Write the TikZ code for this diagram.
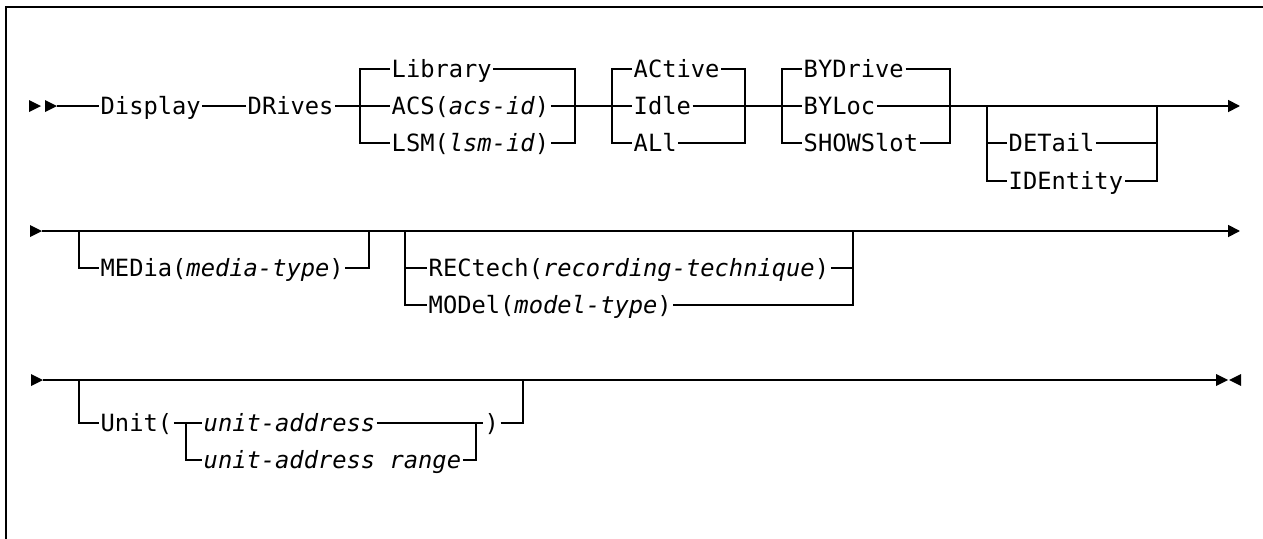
\documentclass[tikz,border=0pt]{standalone}
\usepackage{fontspec}
\setmonofont{DejaVu Sans Mono}[ItalicFont={DejaVu Sans Mono Oblique}]
\usetikzlibrary{arrows.meta}
\newcommand\rtri[1]{\fill ([yshift=6pt]#1) -- ([xshift=12pt]#1) -- ([yshift=-6pt]#1) -- cycle;}
\newcommand\ltri[1]{\fill ([yshift=6pt]#1) -- ([xshift=-12pt]#1) -- ([yshift=-6pt]#1) -- cycle;}
\begin{document}
\begin{tikzpicture}[x=1pt,y=-1pt,
  lbl/.style={inner xsep=1.5pt, inner ysep=0pt, text height=17.3pt, text depth=0pt, anchor=west,
              font=\ttfamily\fontsize{23.75}{28}\selectfont},
  rail/.style={line width=1.8pt, line cap=butt, line join=miter},
  endarrow/.style={-{Triangle[length=12pt,width=12pt]}},
  frame/.style={line width=2.5pt}]
\useasboundingbox (0,0) rectangle (1263,538);
% frame (open to the right and bottom)
\coordinate (fb) at (6,560);
\coordinate (fc) at (6,7);
\coordinate (fr) at (1300,7);
\draw[frame] (fb) -- (fc) -- (fr);

% ---------------- Row 1 ----------------
\coordinate (st1) at (29,106);
\coordinate (st1b) at (45,106);
\coordinate (r1s) at (57,106);
\rtri{st1}
\rtri{st1b}
\node[lbl] (display) at (99,106) {Display};
\node[lbl] (drives) at (246,106) {DRives};
\coordinate (aL) at (360,106);
\node[lbl] (library) at (390,69) {Library};
\node[lbl] (acs) at (390,106) {ACS(\textit{acs-id})};
\node[lbl] (lsm) at (390,143) {LSM(\textit{lsm-id})};
\coordinate (aR) at (575,106);
\coordinate (bL) at (612,106);
\node[lbl] (active) at (632,69) {ACtive};
\node[lbl] (idle) at (632,106) {Idle};
\node[lbl] (all) at (632,143) {ALl};
\coordinate (bR) at (745,106);
\coordinate (cL) at (782,106);
\node[lbl] (bydrive) at (802,69) {BYDrive};
\node[lbl] (byloc) at (802,106) {BYLoc};
\node[lbl] (showslot) at (802,143) {SHOWSlot};
\coordinate (cR) at (950,106);
\coordinate (dL) at (987,106);
\node[lbl] (detail) at (1007,143) {DETail};
\node[lbl] (identity) at (1007,181) {IDEntity};
\coordinate (dR) at (1157,106);
\coordinate (end1) at (1240,106);

\draw[rail] (r1s) -- (display.west);
\draw[rail] (display.east) -- (drives.west);
\draw[rail] (drives.east) -- (aL) -- (acs.west);
\draw[rail] (library.west) -| (aL) |- (lsm.west);
\draw[rail] (library.east) -| (aR) |- (lsm.east);
\draw[rail] (acs.east) -- (aR) -- (bL) -- (idle.west);
\draw[rail] (active.west) -| (bL) |- (all.west);
\draw[rail] (active.east) -| (bR) |- (all.east);
\draw[rail] (idle.east) -- (bR) -- (cL) -- (byloc.west);
\draw[rail] (bydrive.west) -| (cL) |- (showslot.west);
\draw[rail] (bydrive.east) -| (cR) |- (showslot.east);
\draw[rail,endarrow] (byloc.east) -- (end1);
\draw[rail] (dL) |- (identity.west);
\draw[rail] (dL |- detail.west) -- (detail.west);
\draw[rail] (dR) |- (identity.east);
\draw[rail] (detail.east) -- (dR |- detail.east);

% ---------------- Row 2 ----------------
\coordinate (st2) at (30,231);
\coordinate (r2s) at (42,231);
\rtri{st2}
\coordinate (mL) at (79,231);
\node[lbl] (media) at (99,268) {MEDia(\textit{media-type})};
\coordinate (mR) at (369,231);
\coordinate (rL) at (405,231);
\node[lbl] (rectech) at (427,268) {RECtech(\textit{recording-technique})};
\node[lbl] (model) at (427,305) {MODel(\textit{model-type})};
\coordinate (rR) at (853,231);
\coordinate (end2) at (1240,231);

\draw[rail,endarrow] (r2s) -- (end2);
\draw[rail] (mL) |- (media.west);
\draw[rail] (media.east) -| (mR);
\draw[rail] (rL) |- (model.west);
\draw[rail] (rL |- rectech.west) -- (rectech.west);
\draw[rail] (rR) |- (model.east);
\draw[rail] (rectech.east) -- (rR |- rectech.east);

% ---------------- Row 3 ----------------
\coordinate (st3) at (31,380);
\coordinate (r3s) at (43,380);
\rtri{st3}
\coordinate (uL) at (79,380);
\node[lbl] (unit) at (99,423) {Unit(};
\coordinate (iL) at (186,423);
\node[lbl] (uaddr) at (202,423) {\textit{unit-address}};
\node[lbl] (urange) at (202,460) {\textit{unit-address range}};
\coordinate (iR) at (476,423);
\node[lbl] (close) at (483,423) {)};
\coordinate (uR) at (523,380);
\coordinate (end3) at (1216,380);
\coordinate (end3b) at (1241,380);

\draw[rail] (r3s) -- (end3);
\rtri{end3}
\ltri{end3b}
\draw[rail] (uL) |- (unit.west);
\draw[rail] (unit.east) -- (iL) -- (uaddr.west);
\draw[rail] (iL) |- (urange.west);
\draw[rail] (uaddr.east) -- (iR) -- (close.west);
\draw[rail] (urange.east) -| (iR);
\draw[rail] (close.east) -| (uR);
\end{tikzpicture}
\end{document}
